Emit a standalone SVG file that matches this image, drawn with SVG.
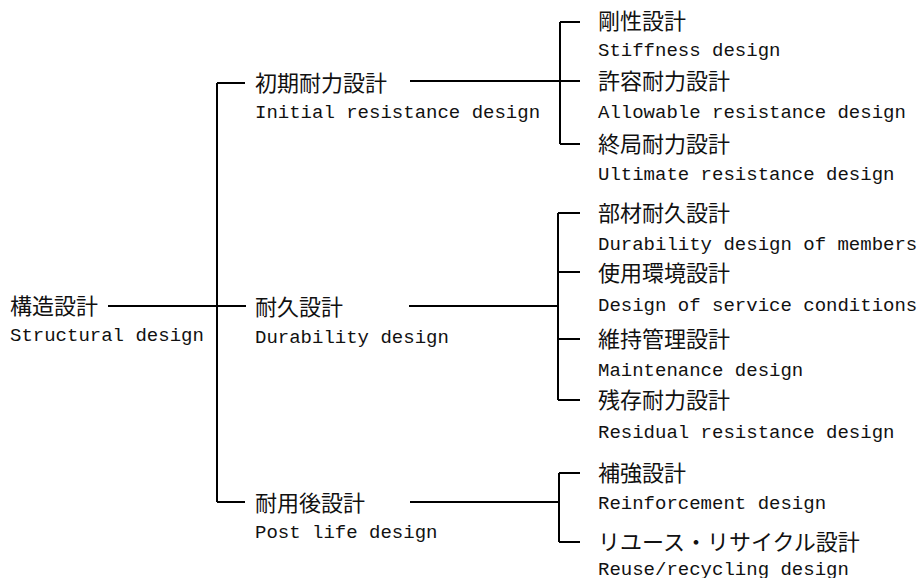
<svg xmlns="http://www.w3.org/2000/svg" width="920" height="578" viewBox="0 0 920 578">
<style>
.jp{font-family:"Noto Sans CJK JP","Noto Sans CJK SC",sans-serif;font-size:22px;fill:#111;}
.en{font-family:"Liberation Mono","DejaVu Sans Mono",monospace;font-size:19px;fill:#111;}
.ln{stroke:#000;stroke-width:2;fill:none;}
</style>
<rect width="920" height="578" fill="#fff"/>
<g id="connectors" class="ln">
<path d="M108 306H246"/>
<path d="M217 83V502"/>
<path d="M217 83H245"/>
<path d="M217 502H245"/>
<path d="M410 81H580"/>
<path d="M560 22V144"/>
<path d="M560 22H580"/>
<path d="M560 144H580"/>
<path d="M409 306H558"/>
<path d="M558 213V400"/>
<path d="M558 213H580"/>
<path d="M558 272H580"/>
<path d="M558 339H580"/>
<path d="M558 400H580"/>
<path d="M410 502H559"/>
<path d="M559 473V542"/>
<path d="M559 473H580"/>
<path d="M559 542H580"/>
</g>
<g id="root"><text class="jp" x="10" y="314">構造設計</text><text class="en" x="10" y="341">Structural design</text></g>
<g id="initial"><text class="jp" x="255" y="91">初期耐力設計</text><text class="en" x="255" y="118">Initial resistance design</text></g>
<g id="durability"><text class="jp" x="255" y="315">耐久設計</text><text class="en" x="255" y="343">Durability design</text></g>
<g id="postlife"><text class="jp" x="255" y="511">耐用後設計</text><text class="en" x="255" y="538">Post life design</text></g>
<g id="stiffness"><text class="jp" x="598" y="29">剛性設計</text><text class="en" x="598" y="56">Stiffness design</text></g>
<g id="allowable"><text class="jp" x="598" y="89">許容耐力設計</text><text class="en" x="598" y="118">Allowable resistance design</text></g>
<g id="ultimate"><text class="jp" x="598" y="152">終局耐力設計</text><text class="en" x="598" y="180">Ultimate resistance design</text></g>
<g id="members"><text class="jp" x="598" y="221">部材耐久設計</text><text class="en" x="598" y="250">Durability design of members</text></g>
<g id="service"><text class="jp" x="598" y="281">使用環境設計</text><text class="en" x="598" y="311">Design of service conditions</text></g>
<g id="maintenance"><text class="jp" x="598" y="347">維持管理設計</text><text class="en" x="598" y="376">Maintenance design</text></g>
<g id="residual"><text class="jp" x="598" y="408">残存耐力設計</text><text class="en" x="598" y="438">Residual resistance design</text></g>
<g id="reinforcement"><text class="jp" x="598" y="481">補強設計</text><text class="en" x="598" y="509">Reinforcement design</text></g>
<g id="reuse"><text class="jp" x="598" y="550">リユース・リサイクル設計</text><text class="en" x="598" y="575">Reuse/recycling design</text></g>
</svg>
